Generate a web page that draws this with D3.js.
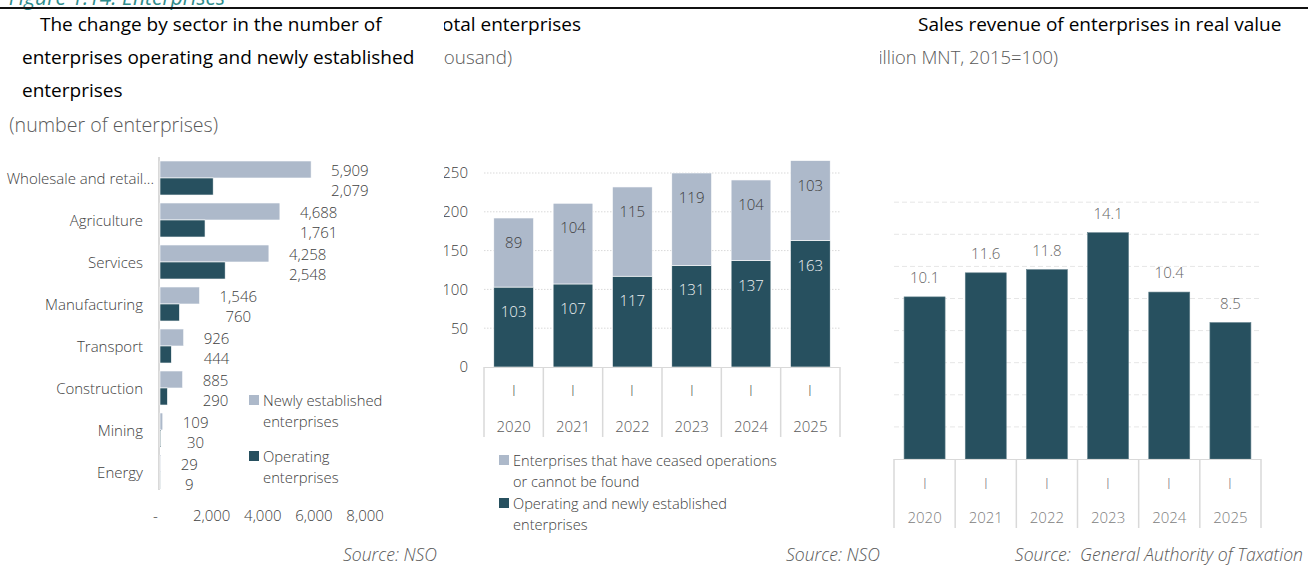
<!DOCTYPE html>
<html>
<head>
<meta charset="utf-8">
<script src="https://cdn.jsdelivr.net/npm/d3@7"></script>
<style>
  html, body { margin: 0; padding: 0; background: #ffffff; }
  svg { display: block; font-family: "Open Sans", "Noto Sans", sans-serif; }
  .per { opacity: 0.99; }
</style>
</head>
<body>
<svg id="chart" width="1308" height="568"></svg>
<script>
// ---- Panel 1: enterprises by sector ----
const sectors = ["Wholesale and retail trade", "Agriculture", "Services", "Manufacturing",
                 "Transport", "Construction", "Mining", "Energy"];
const newlyEstablished = [5909, 4688, 4258, 1546, 926, 885, 109, 29];
const operatingEnterprises = [2079, 1761, 2548, 760, 444, 290, 30, 9];
const sectorTicks = [0, 2000, 4000, 6000, 8000];

// ---- Panel 2: total enterprises (thousand) ----
const years = ["2020", "2021", "2022", "2023", "2024", "2025"];
const periodLabel = "I";
const operatingAndNew = [103, 107, 117, 131, 137, 163];
const ceasedOrNotFound = [89, 104, 115, 119, 104, 103];
const totalTicks = [0, 50, 100, 150, 200, 250];

// ---- Panel 3: sales revenue in real value ----
const salesRevenue = [10.1, 11.6, 11.8, 14.1, 10.4, 8.5];
const salesGrid = [2, 4, 6, 8, 10, 12, 14, 16];

const DARK = "#27505f";
const LIGHT = "#adb9ca";
const TXT = "#404040";
const GRID = "#d9d9d9";
const LBL = "Open Sans";

const svg = d3.select("#chart");
const defs = svg.append("defs");

function panel(id, x0, x1) {
  defs.append("clipPath").attr("id", id)
    .append("rect").attr("x", x0).attr("y", -20).attr("width", x1 - x0).attr("height", 620);
  return svg.append("g").attr("clip-path", `url(#${id})`);
}

// Figure caption and rule across the top
svg.append("text").attr("x", 225).attr("y", 5).attr("text-anchor", "end")
  .attr("font-size", 21).attr("font-style", "italic").attr("fill", "#2f8c8c")
  .text("Figure 1.14. Enterprises");
svg.append("line").attr("x1", 0).attr("x2", 1308).attr("y1", 8).attr("y2", 8)
  .attr("stroke", "#111").attr("stroke-width", 2);

function title(g, x, y, s, anchor) {
  return g.append("text").attr("x", x).attr("y", y).attr("text-anchor", anchor || "start")
    .attr("font-size", 19).attr("fill", "#000").text(s);
}
function subtitle(g, xEnd, y, s, size) {
  return g.append("text").attr("x", xEnd).attr("y", y).attr("text-anchor", "end")
    .attr("font-size", size || 18.8).attr("font-weight", 300).attr("fill", "#595959").text(s);
}
function source(xEnd, s) {
  svg.append("text").attr("x", xEnd).attr("y", 561).attr("text-anchor", "end")
    .attr("font-size", 17.6).attr("font-style", "italic").attr("font-weight", 300)
    .attr("fill", "#595959").attr("xml:space", "preserve").text(s);
}

// =================== Panel 1 ===================
{
  const g = panel("clipA", 4, 442);
  title(g, 40, 31, "The change by sector in the number of");
  title(g, 22, 64, "enterprises operating and newly established");
  title(g, 22, 97, "enterprises");
  subtitle(g, 218, 132, "(number of enterprises)", 19.6);

  const x = d3.scaleLinear().domain([0, 8000]).range([160, 364.6]);
  const y = d3.scaleBand().domain(sectors).range([157, 493]).paddingInner(0.19).paddingOuter(0.095);
  const bh = y.bandwidth() / 2;

  g.append("line").attr("x1", 159).attr("x2", 159).attr("y1", 157).attr("y2", 490)
    .attr("stroke", GRID).attr("stroke-width", 2);

  const grp = g.selectAll("g.sector").data(sectors).join("g").attr("class", "sector");
  grp.append("rect").attr("x", x(0)).attr("y", d => y(d))
    .attr("width", (d, i) => x(newlyEstablished[i]) - x(0)).attr("height", bh)
    .attr("fill", LIGHT).attr("stroke", "#fff").attr("stroke-width", 0.6);
  grp.append("rect").attr("x", x(0)).attr("y", d => y(d) + bh)
    .attr("width", (d, i) => x(operatingEnterprises[i]) - x(0)).attr("height", bh)
    .attr("fill", DARK).attr("stroke", "#fff").attr("stroke-width", 0.6);

  // category labels, truncated with an ellipsis when too long
  grp.each(function (d) {
    const t = d3.select(this).append("text").attr("y", y(d) + bh)
      .attr("dominant-baseline", "central").attr("text-anchor", "end")
      .attr("font-size", 15).attr("font-weight", 300).attr("fill", TXT).text(d);
    let s = d, cut = false;
    while (t.node().getComputedTextLength() > 148 && s.length > 3) {
      s = s.slice(0, -1).trimEnd(); cut = true;
      t.text(s + "...");
    }
    t.attr("x", cut ? 154 : 143);
  });

  // two-line value labels beside each pair of bars
  const fmt = d3.format(",");
  grp.each(function (d, i) {
    const gg = d3.select(this);
    const a = gg.append("text").attr("text-anchor", "middle").attr("dominant-baseline", "central")
      .attr("font-size", 15).attr("font-weight", 300).attr("fill", TXT)
      .attr("y", y(d) + bh - 8).text(fmt(newlyEstablished[i]));
    const b = gg.append("text").attr("text-anchor", "middle").attr("dominant-baseline", "central")
      .attr("font-size", 15).attr("font-weight", 300).attr("fill", TXT)
      .attr("y", y(d) + bh + 12).text(fmt(operatingEnterprises[i]));
    const w = Math.max(a.node().getComputedTextLength(), b.node().getComputedTextLength());
    const cx = x(newlyEstablished[i]) + 20 + w / 2;
    a.attr("x", cx); b.attr("x", cx);
  });

  const xAxis = d3.axisBottom(x).tickValues(sectorTicks).tickSize(0)
    .tickFormat(v => v === 0 ? "-" : fmt(v));
  const ax = g.append("g").attr("transform", "translate(0,506)").call(xAxis);
  ax.select(".domain").remove();
  ax.selectAll("text").attr("font-family", LBL).attr("font-size", 15).attr("font-weight", 300)
    .attr("fill", TXT).attr("dy", "0.32em").attr("y", 10)
    .attr("dx", v => v === 0 ? -5 : 0);

  // legend
  const leg = [
    { c: LIGHT, lines: ["Newly established", "enterprises"], y: 400 },
    { c: DARK, lines: ["Operating", "enterprises"], y: 456 }
  ];
  leg.forEach(l => {
    g.append("rect").attr("x", 249).attr("y", l.y - 5).attr("width", 10).attr("height", 10).attr("fill", l.c);
    l.lines.forEach((s, k) => g.append("text").attr("x", 263).attr("y", l.y + k * 21)
      .attr("dominant-baseline", "central").attr("font-size", 14.8).attr("font-weight", 300)
      .attr("fill", TXT).text(s));
  });
}
source(437, "Source: NSO");

// =================== Panel 2 ===================
{
  const g = panel("clipB", 444, 880);
  title(g, 581, 31, "Total enterprises", "end");
  subtitle(g, 512, 64, "(thousand)");

  const x = d3.scaleBand().domain(years).range([484, 840]).paddingInner(0.33).paddingOuter(0.165);
  const y = d3.scaleLinear().domain([0, 250]).range([367, 173]);

  // dotted gridlines and value axis
  g.selectAll("line.grid").data(totalTicks.slice(1)).join("line").attr("class", "grid")
    .attr("x1", 484).attr("x2", 840).attr("y1", d => y(d)).attr("y2", d => y(d))
    .attr("stroke", GRID).attr("stroke-dasharray", "1.5,1.5");
  const yAxis = d3.axisLeft(y).tickValues(totalTicks).tickSize(0);
  const ay = g.append("g").attr("transform", "translate(468,0)").call(yAxis);
  ay.select(".domain").remove();
  ay.selectAll("text").attr("font-family", LBL).attr("font-size", 15).attr("font-weight", 300)
    .attr("fill", TXT).attr("x", 0);

  const stacked = years.map((yr, i) => ({ yr, base: operatingAndNew[i], top: ceasedOrNotFound[i] }));
  const bars = g.selectAll("g.yr").data(stacked).join("g").attr("class", "yr");
  bars.append("rect").attr("x", d => x(d.yr)).attr("width", x.bandwidth())
    .attr("y", d => y(d.base)).attr("height", d => y(0) - y(d.base)).attr("fill", DARK)
    .attr("stroke", "#fff").attr("stroke-width", 0.6);
  bars.append("rect").attr("x", d => x(d.yr)).attr("width", x.bandwidth())
    .attr("y", d => y(d.base + d.top)).attr("height", d => y(d.base) - y(d.base + d.top)).attr("fill", LIGHT)
    .attr("stroke", "#fff").attr("stroke-width", 0.6);
  bars.append("text").attr("x", d => x(d.yr) + x.bandwidth() / 2).attr("y", d => y(d.base) + 24)
    .attr("text-anchor", "middle").attr("dominant-baseline", "central")
    .attr("font-size", 15).attr("font-weight", 300).attr("fill", "#eef0f2").text(d => d.base);
  bars.append("text").attr("x", d => x(d.yr) + x.bandwidth() / 2).attr("y", d => y(d.base + d.top) + 24)
    .attr("text-anchor", "middle").attr("dominant-baseline", "central")
    .attr("font-size", 15).attr("font-weight", 300).attr("fill", TXT).text(d => d.top);

  // two-level category axis
  g.append("line").attr("x1", 484).attr("x2", 840).attr("y1", 367.5).attr("y2", 367.5).attr("stroke", GRID);
  const edges = years.map(d => x(d) - x.step() * x.paddingInner() / 2).concat([840]);
  g.selectAll("line.sep").data(edges).join("line").attr("class", "sep")
    .attr("x1", d => d).attr("x2", d => d).attr("y1", 367).attr("y2", 437)
    .attr("stroke", GRID).attr("stroke-width", 1.5);
  g.append("g").attr("class", "per").selectAll("text").data(years).join("text")
    .attr("x", d => Math.round(x(d) + x.bandwidth() / 2)).attr("y", 390).attr("text-anchor", "middle")
    .attr("dominant-baseline", "central").attr("font-size", 15).attr("font-weight", 300)
    .attr("fill", "#595959").text(periodLabel);
  g.selectAll("text.year").data(years).join("text").attr("class", "year")
    .attr("x", d => x(d) + x.bandwidth() / 2).attr("y", 426).attr("text-anchor", "middle")
    .attr("dominant-baseline", "central").attr("font-size", 15).attr("font-weight", 300)
    .attr("fill", "#595959").text(d => d);

  const leg = [
    { c: LIGHT, lines: ["Enterprises that have ceased operations", "or cannot be found"], y: 460 },
    { c: DARK, lines: ["Operating and newly established", "enterprises"], y: 503 }
  ];
  leg.forEach(l => {
    g.append("rect").attr("x", 499).attr("y", l.y - 5).attr("width", 10).attr("height", 10).attr("fill", l.c);
    l.lines.forEach((s, k) => g.append("text").attr("x", 513).attr("y", l.y + k * 21)
      .attr("dominant-baseline", "central").attr("font-size", 14.6).attr("font-weight", 300)
      .attr("fill", TXT).text(s));
  });
}
source(880, "Source: NSO");

// =================== Panel 3 ===================
{
  const g = panel("clipC", 880, 1308);
  title(g, 918, 31, "Sales revenue of enterprises in real value");
  subtitle(g, 1058, 64, "(billion MNT, 2015=100)", 18.4);

  const x = d3.scaleBand().domain(years).range([894, 1261]).paddingInner(0.33).paddingOuter(0.165);
  const y = d3.scaleLinear().domain([0, 16]).range([459, 202.2]);

  g.selectAll("line.grid").data(salesGrid).join("line").attr("class", "grid")
    .attr("x1", 894).attr("x2", 1261).attr("y1", d => y(d)).attr("y2", d => y(d))
    .attr("stroke", "#e6e6e6").attr("stroke-dasharray", "5,3");

  const rows = years.map((yr, i) => ({ yr, v: salesRevenue[i] }));
  g.selectAll("rect.bar").data(rows).join("rect").attr("class", "bar")
    .attr("x", d => x(d.yr)).attr("width", x.bandwidth())
    .attr("y", d => y(d.v)).attr("height", d => y(0) - y(d.v))
    .attr("fill", DARK).attr("stroke", "#5f7f8a").attr("stroke-width", 0.6);
  g.selectAll("text.val").data(rows).join("text").attr("class", "val")
    .attr("x", d => x(d.yr) + x.bandwidth() / 2).attr("y", d => y(d.v) - 20)
    .attr("text-anchor", "middle").attr("dominant-baseline", "central")
    .attr("font-size", 15).attr("font-weight", 300).attr("fill", "#666").text(d => d3.format(".1f")(d.v));

  g.append("line").attr("x1", 894).attr("x2", 1261).attr("y1", 459.5).attr("y2", 459.5).attr("stroke", GRID);
  const edges = years.map(d => x(d) - x.step() * x.paddingInner() / 2).concat([1261]);
  g.selectAll("line.sep").data(edges).join("line").attr("class", "sep")
    .attr("x1", d => d).attr("x2", d => d).attr("y1", 459).attr("y2", 528)
    .attr("stroke", GRID).attr("stroke-width", 1.5);
  g.append("g").attr("class", "per").selectAll("text").data(years).join("text")
    .attr("x", d => Math.round(x(d) + x.bandwidth() / 2)).attr("y", 483).attr("text-anchor", "middle")
    .attr("dominant-baseline", "central").attr("font-size", 15).attr("font-weight", 300)
    .attr("fill", "#808080").text(periodLabel);
  g.selectAll("text.year").data(years).join("text").attr("class", "year")
    .attr("x", d => x(d) + x.bandwidth() / 2).attr("y", 517).attr("text-anchor", "middle")
    .attr("dominant-baseline", "central").attr("font-size", 15).attr("font-weight", 300)
    .attr("fill", "#808080").text(d => d);
}
source(1303, "Source:  General Authority of Taxation");
</script>
</body>
</html>
